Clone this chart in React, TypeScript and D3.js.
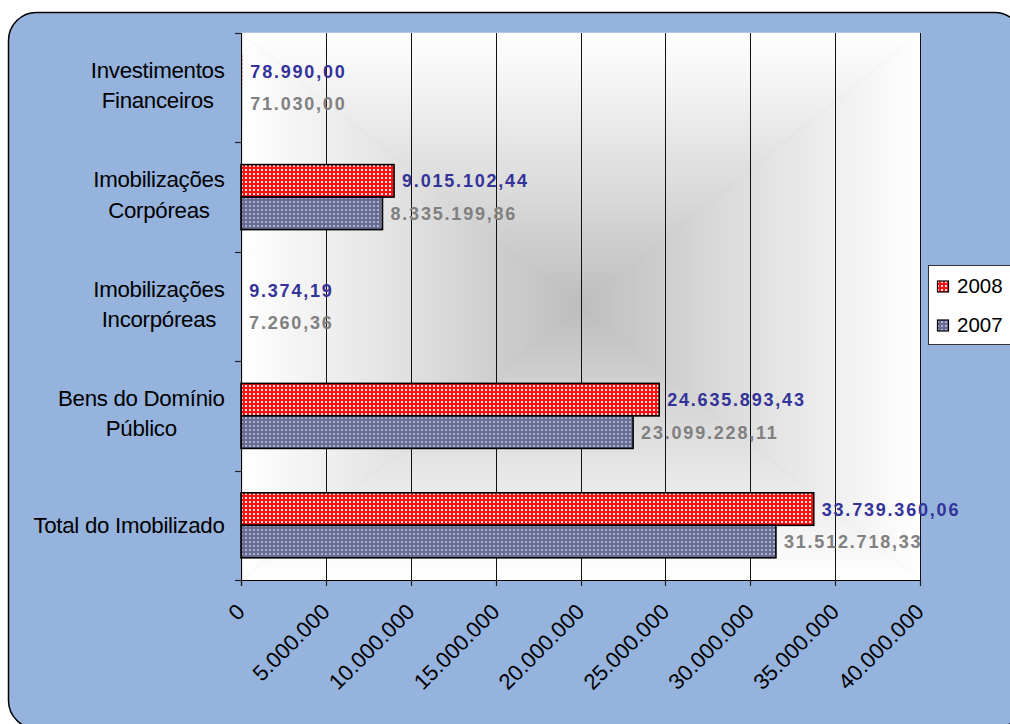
import React, { useEffect, useRef } from "react";
import * as d3 from "d3";

const categories = [
  "Investimentos Financeiros",
  "Imobilizações Corpóreas",
  "Imobilizações Incorpóreas",
  "Bens do Domínio Público",
  "Total do Imobilizado",
];
const categoryLines = [
  ["Investimentos", "Financeiros"],
  ["Imobilizações", "Corpóreas"],
  ["Imobilizações", "Incorpóreas"],
  ["Bens do Domínio", "Público"],
  ["Total do Imobilizado"],
];
const seriesNames = ["2008", "2007"];
const values2008 = [78990.0, 9015102.44, 9374.19, 24635893.43, 33739360.06];
const values2007 = [71030.0, 8335199.86, 7260.36, 23099228.11, 31512718.33];
const tickValues = [0, 5000000, 10000000, 15000000, 20000000, 25000000, 30000000, 35000000, 40000000];

const locale = d3.formatLocale({ decimal: ",", thousands: ".", grouping: [3], currency: ["€", ""] });
const fmtTick = locale.format(",.0f");
const fmtVal = locale.format(",.2f");

export default function App() {
  const ref = useRef<SVGSVGElement>(null);

  useEffect(() => {
    const svg = d3.select(ref.current);
    svg.selectAll("*").remove();

    const x0 = 241, x1 = 920, y0 = 33, y1 = 580;
    const x = d3.scaleLinear().domain([0, 40000000]).range([x0, x1]);
    const y = d3.scaleBand<string>().domain(categories).range([y0, y1]).padding(0);
    const groupH = 65;
    const sub = d3.scaleBand<string>().domain(seriesNames).range([0, groupH]).padding(0);

    const defs = svg.append("defs");
    const pRed = defs.append("pattern").attr("id", "pRed").attr("patternUnits", "userSpaceOnUse")
      .attr("width", 4).attr("height", 4);
    pRed.append("rect").attr("width", 4).attr("height", 4).attr("fill", "#ff1010");
    pRed.append("rect").attr("x", 1).attr("y", 1).attr("width", 2).attr("height", 2).attr("fill", "#ffe6e6");
    const pGray = defs.append("pattern").attr("id", "pGray").attr("patternUnits", "userSpaceOnUse")
      .attr("width", 4).attr("height", 4);
    pGray.append("rect").attr("width", 4).attr("height", 4).attr("fill", "#6c6c8e");
    pGray.append("rect").attr("x", 1).attr("y", 1).attr("width", 2).attr("height", 2).attr("fill", "#a3b3e0");

    const cx = (x0 + x1) / 2, cy = (y0 + y1) / 2;
    const grads = [
      { id: "gT", x1: cx, y1: y0, x2: cx, y2: cy },
      { id: "gB", x1: cx, y1: y1, x2: cx, y2: cy },
      { id: "gL", x1: x0, y1: cy, x2: cx, y2: cy },
      { id: "gR", x1: x1, y1: cy, x2: cx, y2: cy },
    ];
    grads.forEach((g) => {
      const lg = defs.append("linearGradient").attr("id", g.id).attr("gradientUnits", "userSpaceOnUse")
        .attr("x1", g.x1).attr("y1", g.y1).attr("x2", g.x2).attr("y2", g.y2);
      lg.append("stop").attr("offset", 0).attr("stop-color", "#ffffff");
      lg.append("stop").attr("offset", 0.6).attr("stop-color", "#d9d9d9");
      lg.append("stop").attr("offset", 1).attr("stop-color", "#bdbdbd");
    });

    // outer frame
    svg.append("rect").attr("x", 8.5).attr("y", 12.5).attr("width", 1014).attr("height", 716)
      .attr("rx", 28).attr("ry", 28).attr("fill", "#95b3dd").attr("stroke", "#000").attr("stroke-width", 1.5);

    // plot background (box gradient)
    const tri = (pts: number[][], fill: string) =>
      svg.append("polygon").attr("points", pts.map((p) => p.join(",")).join(" ")).attr("fill", fill)
        .attr("stroke", fill).attr("stroke-width", 0.5);
    tri([[x0, y0], [x1, y0], [cx, cy]], "url(#gT)");
    tri([[x0, y1], [x1, y1], [cx, cy]], "url(#gB)");
    tri([[x0, y0], [x0, y1], [cx, cy]], "url(#gL)");
    tri([[x1, y0], [x1, y1], [cx, cy]], "url(#gR)");

    // gridlines
    svg.append("g").selectAll("line").data(tickValues.slice(1)).join("line")
      .attr("x1", (d) => Math.round(x(d)) + 0.5).attr("x2", (d) => Math.round(x(d)) + 0.5)
      .attr("y1", y0).attr("y2", y1).attr("stroke", "#111").attr("stroke-width", 1);

    // bars
    const series = [
      { name: "2008", values: values2008, fill: "url(#pRed)", color: "#333399" },
      { name: "2007", values: values2007, fill: "url(#pGray)", color: "#808080" },
    ];
    series.forEach((s) => {
      const g = svg.append("g");
      categories.forEach((c, i) => {
        const top = (y(c) as number) + (y.bandwidth() - groupH) / 2 + (sub(s.name) as number);
        const w = x(s.values[i]) - x(0);
        g.append("rect").attr("x", x(0)).attr("y", top).attr("width", w).attr("height", sub.bandwidth())
          .attr("fill", s.fill).attr("stroke", w > 3 ? "#000" : "none").attr("stroke-width", 1.6);
        g.append("text").attr("x", x(s.values[i]) + 8).attr("y", top + sub.bandwidth() / 2)
          .attr("dy", "0.36em").attr("font-family", "'Liberation Sans', Arial, sans-serif")
          .attr("font-weight", "bold").attr("font-size", 18).attr("letter-spacing", 1.8)
          .attr("fill", s.color).text(fmtVal(s.values[i]));
      });
    });

    // axes lines
    svg.append("line").attr("x1", x0 + 0.5).attr("x2", x0 + 0.5).attr("y1", y0).attr("y2", y1 + 6)
      .attr("stroke", "#000").attr("stroke-width", 1.2);
    svg.append("line").attr("x1", x0 - 6).attr("x2", x1 + 0.5).attr("y1", y1 + 0.5).attr("y2", y1 + 0.5)
      .attr("stroke", "#000").attr("stroke-width", 1.2);
    const bounds = categories.map((c) => y(c) as number).concat([y1]);
    svg.append("g").selectAll("line").data(bounds).join("line")
      .attr("x1", x0 - 6).attr("x2", x0).attr("y1", (d) => Math.round(d) + 0.5).attr("y2", (d) => Math.round(d) + 0.5)
      .attr("stroke", "#222").attr("stroke-width", 1.2);
    svg.append("g").selectAll("line").data(tickValues).join("line")
      .attr("x1", (d) => Math.round(x(d)) + 0.5).attr("x2", (d) => Math.round(x(d)) + 0.5)
      .attr("y1", y1).attr("y2", y1 + 6).attr("stroke", "#222").attr("stroke-width", 1.2);

    // x tick labels rotated
    svg.append("g").selectAll("text").data(tickValues).join("text")
      .attr("transform", (d) => `translate(${x(d) - 6},${y1 + 22}) rotate(-45)`)
      .attr("text-anchor", "end").attr("dy", "0.72em")
      .attr("font-family", "'Liberation Sans', Arial, sans-serif").attr("font-size", 22)
      .attr("fill", "#000").text((d) => fmtTick(d));

    // category labels
    const catFont = "'Liberation Sans', Arial, sans-serif";
    categories.forEach((c, i) => {
      const center = (y(c) as number) + y.bandwidth() / 2;
      const lines = categoryLines[i];
      const g = svg.append("g");
      const texts = lines.map((ln, j) => {
        const baseline = lines.length === 1 ? center + 8 : center - 10 + j * 30.5;
        return g.append("text").attr("y", baseline).attr("font-family", catFont).attr("font-size", 22.3)
          .attr("letter-spacing", -0.3)
          .attr("fill", "#000").attr("text-anchor", "middle").text(ln);
      });
      const widths = texts.map((t) => (t.node() as SVGTextElement).getComputedTextLength());
      const maxW = Math.max(...widths);
      texts.forEach((t) => t.attr("x", 224.5 - maxW / 2));
    });

    // legend
    const lg = svg.append("g");
    lg.append("rect").attr("x", 928.5).attr("y", 265.5).attr("width", 120).attr("height", 79)
      .attr("fill", "#fff").attr("stroke", "#333").attr("stroke-width", 1);
    series.forEach((s, i) => {
      const sy = 281 + i * 39;
      lg.append("rect").attr("x", 937.5).attr("y", sy).attr("width", 11).attr("height", 11)
        .attr("fill", s.fill).attr("stroke", "#000").attr("stroke-width", 1.2);
      lg.append("text").attr("x", 957).attr("y", sy + 11.5).attr("font-family", catFont).attr("font-size", 20.5)
        .attr("fill", "#000").text(s.name);
    });
  }, []);

  return (
    <svg ref={ref} width={1010} height={724}
      style={{ position: "absolute", left: 0, top: 0, display: "block", background: "#fff" }} />
  );
}
